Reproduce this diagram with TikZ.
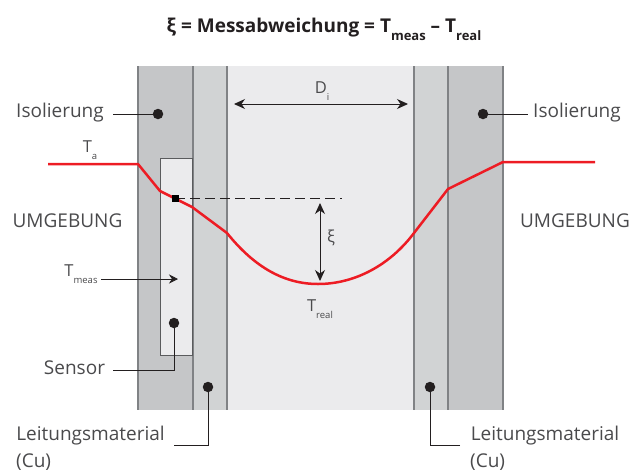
\documentclass[tikz,border=0pt]{standalone}
\usepackage{fontspec}
\usetikzlibrary{arrows.meta}
\setmainfont{Open Sans}
\newcommand{\lsub}[2]{#1\raisebox{-0.42em}{\fontsize{9.5}{9.5}\selectfont #2}}
\newcommand{\tsubbf}[1]{T\raisebox{-0.42em}{\fontsize{13}{13}\selectfont #1}}
\definecolor{isocolor}{HTML}{C5C6C8}
\definecolor{cucolor}{HTML}{D1D3D4}
\definecolor{innercolor}{HTML}{EBEBED}
\definecolor{wallline}{HTML}{808285}
\definecolor{textcolor}{HTML}{4A4A4C}
\definecolor{dotcolor}{HTML}{231F20}
\definecolor{tempcolor}{HTML}{ED1C24}
\tikzset{
    wall/.style={draw=wallline, line width=1.1pt},
    txt/.style={text=textcolor, font=\fontsize{19}{22}\selectfont, inner sep=0pt},
    smalltxt/.style={text=textcolor, font=\fontsize{16.5}{18}\selectfont, inner sep=0pt},
    dot/.style={circle, fill=dotcolor, inner sep=0pt, minimum size=10.5pt},
    leader/.style={draw=dotcolor, line width=0.7pt},
    bigarrow/.style={<->, draw=dotcolor, line width=1pt, >={Stealth[length=11pt, width=10pt]}},
    temp/.style={draw=tempcolor, line width=2.5pt, line join=round}
}
\begin{document}
\begin{tikzpicture}[>=stealth, x=1pt, y=-1pt]
    \useasboundingbox (0,0) rectangle (630,472);
    \node[inner sep=0pt, text=dotcolor, font=\fontsize{19}{22}\selectfont\bfseries] (title) at (324,29)
        {ξ = Messabweichung = \tsubbf{meas} – \tsubbf{real}};

    \fill[innercolor] (227,66) rectangle (414,410);
    \fill[cucolor] (193,66) rectangle (227,410);
    \fill[cucolor] (414,66) rectangle (448,410);
    \fill[isocolor] (138,66) rectangle (193,410);
    \fill[isocolor] (448,66) rectangle (503,410);
    \foreach \wx in {138,193,227,414,448,503}
        \draw[wall] (\wx,66) -- (\wx,410);
    \node[draw=wallline!70!black, fill=innercolor, line width=1pt, inner sep=0pt, minimum width=32pt, minimum height=197pt] (sensorbox) at (176,256.5) {};

    \node[txt] (isoL) at (60,113) {Isolierung};
    \node[txt] (isoR) at (577,113) {Isolierung};
    \node[dot] (isoLdot) at (158,114) {};
    \node[dot] (isoRdot) at (483,114) {};
    \coordinate (isoLe) at (113,114);
    \coordinate (isoRe) at (528,114);
    \draw[leader] (isoLe) -- (isoLdot);
    \draw[leader] (isoRdot) -- (isoRe);

    \node[txt] (umgL) at (67.5,221) {UMGEBUNG};
    \node[txt] (umgR) at (575,221) {UMGEBUNG};

    \node[smalltxt] (ta) at (90,150) {\lsub{T}{a}};
    \node[smalltxt] (di) at (322,91) {\lsub{D}{i}};
    \node[smalltxt] (xi) at (331,238) {ξ};
    \node[smalltxt] (tmeas) at (81,274) {\lsub{T}{meas}};
    \node[smalltxt] (treal) at (320,309) {\lsub{T}{real}};

    \coordinate (tmeasS) at (101,279);
    \coordinate (tmeasE) at (178,279);
    \draw[leader, -{Stealth[length=9pt, width=9pt]}] (tmeasS) -- (tmeasE);

    \coordinate (diL) at (234,104);
    \coordinate (diR) at (408,104);
    \draw[bigarrow] (diL) -- (diR);

    \coordinate (m) at (175,198);
    \coordinate (dashE) at (342,198);
    \draw[draw=dotcolor, line width=0.7pt, dash pattern=on 10pt off 5pt] (m) -- (dashE);
    \coordinate (xiT) at (320,203);
    \coordinate (xiB) at (320,281);
    \draw[bigarrow] (xiT) -- (xiB);

    \coordinate (t0) at (48,164);
    \coordinate (t1) at (138,164);
    \coordinate (t2) at (160,191);
    \coordinate (t3) at (192,207);
    \coordinate (t4) at (227,233);
    \coordinate (t5) at (318,284);
    \coordinate (t6) at (414,233);
    \coordinate (t7) at (448,189);
    \coordinate (t8) at (503,162);
    \coordinate (t9) at (595,162);
    \draw[temp] (t0) -- (t1) -- (t2) -- (t3) -- (t4)
        .. controls (255,268) and (285,284) .. (t5)
        .. controls (355,284) and (390,265) .. (t6) -- (t7) -- (t8) -- (t9);
    \node[fill=black, inner sep=0pt, minimum size=7pt] (msq) at (m) {};

    \node[txt] (sensor) at (74.5,368) {Sensor};
    \node[dot] (sensordot) at (174,323) {};
    \coordinate (sensorE) at (113,370);
    \draw[leader] (sensorE) -| (sensordot);

    \node[txt] (leitL) at (90.5,436) {Leitungsmaterial};
    \node[txt, anchor=west] (cuL) at (16,462) {(Cu)};
    \node[txt] (leitR) at (545,436) {Leitungsmaterial};
    \node[txt, anchor=west] (cuR) at (470,462) {(Cu)};
    \node[dot] (cuLdot) at (208,387) {};
    \node[dot] (cuRdot) at (430,387) {};
    \coordinate (cuLe) at (174,445);
    \coordinate (cuRe) at (460,445);
    \draw[leader] (cuLe) -| (cuLdot);
    \draw[leader] (cuRe) -| (cuRdot);
\end{tikzpicture}
\end{document}
